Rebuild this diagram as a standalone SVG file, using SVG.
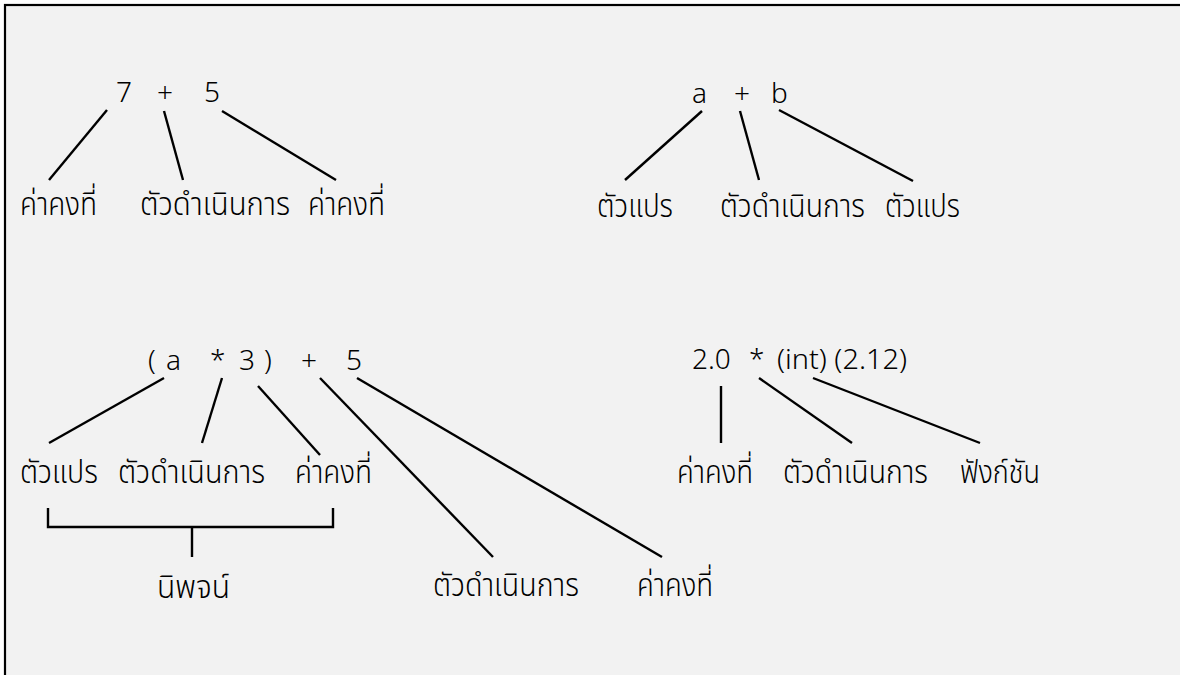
<svg xmlns="http://www.w3.org/2000/svg" width="1180" height="675" viewBox="0 0 1180 675">
<style>
text{font-family:"Noto Sans Thai","Noto Sans Thai Looped","Noto Sans","DejaVu Sans",sans-serif;font-size:32px;font-weight:300;fill:#000}
.e{font-size:28px}
line,path{stroke:#000;stroke-width:2.4;fill:none}
</style>
<rect x="0" y="0" width="1180" height="675" fill="#fff"/>
<rect x="5" y="5" width="1180" height="675" fill="#f2f2f2" stroke="#000" stroke-width="2.2"/>
<g id="expr1">
<text class="e" x="116" y="102">7</text>
<text class="e" x="157" y="102">+</text>
<text class="e" x="204" y="102">5</text>
<text x="20" y="215" textLength="77" lengthAdjust="spacingAndGlyphs">ค่าคงที่</text>
<text x="140" y="215" textLength="150" lengthAdjust="spacingAndGlyphs">ตัวดำเนินการ</text>
<text x="308" y="215" textLength="77" lengthAdjust="spacingAndGlyphs">ค่าคงที่</text>
</g>
<g id="expr2">
<text class="e" x="692" y="103">a</text>
<text class="e" x="734" y="103">+</text>
<text class="e" x="771" y="103">b</text>
<text x="597" y="217" textLength="76" lengthAdjust="spacingAndGlyphs">ตัวแปร</text>
<text x="720" y="217" textLength="145" lengthAdjust="spacingAndGlyphs">ตัวดำเนินการ</text>
<text x="885" y="217" textLength="75" lengthAdjust="spacingAndGlyphs">ตัวแปร</text>
</g>
<g id="expr3">
<text class="e" x="148" y="370">(</text>
<text class="e" x="166" y="370">a</text>
<text class="e" x="210" y="370">*</text>
<text class="e" x="239" y="370">3</text>
<text class="e" x="264" y="370">)</text>
<text class="e" x="301" y="370">+</text>
<text class="e" x="346" y="370">5</text>
<text x="20" y="483" textLength="78" lengthAdjust="spacingAndGlyphs">ตัวแปร</text>
<text x="118" y="483" textLength="147" lengthAdjust="spacingAndGlyphs">ตัวดำเนินการ</text>
<text x="295" y="483" textLength="77" lengthAdjust="spacingAndGlyphs">ค่าคงที่</text>
<text x="157" y="598" textLength="73" lengthAdjust="spacingAndGlyphs">นิพจน์</text>
<text x="433" y="596" textLength="146" lengthAdjust="spacingAndGlyphs">ตัวดำเนินการ</text>
<text x="637" y="596" textLength="76" lengthAdjust="spacingAndGlyphs">ค่าคงที่</text>
</g>
<g id="expr4">
<text class="e" x="692" y="369">2.0</text>
<text class="e" x="749" y="369">*</text>
<text class="e" x="777" y="369" textLength="130" lengthAdjust="spacingAndGlyphs">(int) (2.12)</text>
<text x="677" y="483" textLength="76" lengthAdjust="spacingAndGlyphs">ค่าคงที่</text>
<text x="783" y="483" textLength="145" lengthAdjust="spacingAndGlyphs">ตัวดำเนินการ</text>
<text x="960" y="483" textLength="80" lengthAdjust="spacingAndGlyphs">ฟังก์ชัน</text>
</g>
<g id="connectors">
<line x1="107" y1="110" x2="49" y2="180"/>
<line x1="164" y1="111" x2="183" y2="180"/>
<line x1="222" y1="111" x2="336" y2="180"/>
<line x1="702" y1="111" x2="625" y2="180"/>
<line x1="740" y1="111" x2="759" y2="180"/>
<line x1="779" y1="110" x2="913" y2="181"/>
<line x1="164" y1="378" x2="49" y2="443"/>
<line x1="222" y1="378" x2="202" y2="443"/>
<line x1="258" y1="386" x2="320" y2="455"/>
<line x1="320" y1="378" x2="493" y2="557"/>
<line x1="357" y1="378" x2="662" y2="557"/>
<path d="M48 508V527H333V508M192 527V557"/>
<line x1="721" y1="386" x2="721" y2="443"/>
<line x1="759" y1="378" x2="852" y2="443"/>
<line x1="813" y1="378" x2="980" y2="443"/>
</g>
</svg>
